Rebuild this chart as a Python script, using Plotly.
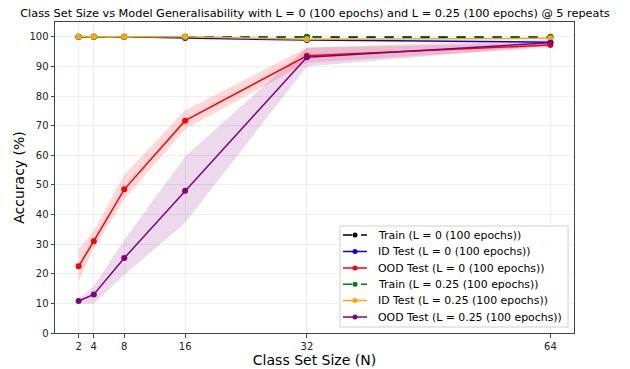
import plotly.graph_objects as go

N = [2, 4, 8, 16, 32, 64]
train_l0 = [100.0, 100.0, 100.0, 100.0, 99.9, 99.8]
id_l0 = [100.0, 100.0, 100.0, 99.6, 98.9, 98.2]
ood_l0 = [22.5, 31.0, 48.5, 71.7, 93.6, 97.2]
ood_l0_lo = [17.5, 28.5, 45.0, 68.8, 91.2, 96.5]
ood_l0_hi = [28.3, 34.5, 53.4, 75.2, 96.3, 98.0]
train_l25 = [100.0, 100.0, 100.0, 100.0, 100.0, 100.0]
id_l25 = [100.0, 100.0, 100.0, 100.0, 99.2, 99.5]
ood_l25 = [10.8, 13.0, 25.3, 48.0, 93.1, 98.0]
ood_l25_lo = [10.0, 10.0, 19.6, 37.2, 90.0, 97.0]
ood_l25_hi = [11.4, 15.9, 31.4, 59.6, 96.4, 99.0]

series_names = ["Train (L = 0 (100 epochs))", "ID Test (L = 0 (100 epochs))",
                "OOD Test (L = 0 (100 epochs))", "Train (L = 0.25 (100 epochs))",
                "ID Test (L = 0.25 (100 epochs))", "OOD Test (L = 0.25 (100 epochs))"]
series_colors = ["black", "blue", "red", "green", "orange", "purple"]
series_dash = ["dash", "solid", "solid", "dash", "solid", "solid"]
series_values = [train_l0, id_l0, ood_l0, train_l25, id_l25, ood_l25]

FONT = "DejaVu Sans"
W, H = 630, 369
ML, MR, MT, MB = 55, 56, 22, 36
PW, PH = W - ML - MR, H - MT - MB

fig = go.Figure()

def band(lo, hi, color):
    fig.add_trace(go.Scatter(x=N + N[::-1], y=hi + lo[::-1], fill="toself",
                             fillcolor=color, line=dict(width=0), mode="lines",
                             hoverinfo="skip", showlegend=False))

band(ood_l0_lo, ood_l0_hi, "rgba(255,0,0,0.15)")
band(ood_l25_lo, ood_l25_hi, "rgba(128,0,128,0.15)")

for y, c, nm, d in zip(series_values, series_colors, series_names, series_dash):
    fig.add_trace(go.Scatter(x=N, y=y, mode="lines+markers", name=nm,
                             line=dict(color=c, width=1.5, dash=d),
                             marker=dict(color=c, size=6), showlegend=False))

# manual legend (pixel layout converted to paper coords)
def px(xp):
    return (xp - ML) / PW

def py(yp):
    return (MT + PH - yp) / PH

shapes = [dict(type="rect", xref="paper", yref="paper", x0=px(340), x1=px(568),
               y0=py(327), y1=py(226), fillcolor="rgba(255,255,255,0.85)",
               line=dict(color="#d0d0d0", width=1), layer="above")]
annotations = []
row_y = [235, 251.5, 268, 284.3, 300.5, 317]
for ry, c, nm, d in zip(row_y, series_colors, series_names, series_dash):
    shapes.append(dict(type="line", xref="paper", yref="paper", x0=px(343), x1=px(367),
                       y0=py(ry), y1=py(ry), line=dict(color=c, width=1.5, dash="dash" if d == "dash" else "solid"),
                       layer="above"))
    shapes.append(dict(type="circle", xref="paper", yref="paper", xsizemode="pixel", ysizemode="pixel",
                       xanchor=px(355), yanchor=py(ry), x0=-2.5, x1=2.5, y0=-2.5, y1=2.5,
                       fillcolor=c, line=dict(color=c, width=0), layer="above"))
    annotations.append(dict(xref="paper", yref="paper", x=px(376), y=py(ry), xanchor="left",
                            yanchor="middle", text=nm, showarrow=False,
                            font=dict(family=FONT, size=10.9, color="black")))

axis_common = dict(showgrid=True, gridcolor="rgba(200,200,200,0.3)", gridwidth=1,
                   showline=True, linecolor="#444", linewidth=1, mirror=True,
                   ticks="outside", ticklen=3.5, tickcolor="#444", automargin=False,
                   tickfont=dict(family=FONT, size=10, color="#222"), zeroline=False)

fig.update_xaxes(range=[-1.1, 67.1], tickvals=N, ticktext=[str(v) for v in N],
                 title=dict(text="Class Set Size (N)", font=dict(family=FONT, size=14, color="black"), standoff=4),
                 **axis_common)
fig.update_yaxes(range=[0, 105], tickvals=list(range(0, 101, 10)),
                 title=dict(text="Accuracy (%)", font=dict(family=FONT, size=14, color="black"), standoff=1),
                 **axis_common)

fig.update_layout(
    width=W, height=H, plot_bgcolor="white", paper_bgcolor="white",
    margin=dict(l=ML, r=MR, t=MT, b=MB),
    title=dict(text="Class Set Size vs Model Generalisability with L = 0 (100 epochs) and L = 0.25 (100 epochs) @ 5 repeats",
               font=dict(family=FONT, size=11.3, color="black"), x=0.5, xanchor="center",
               y=1 - 13 / H, yanchor="middle", automargin=False),
    shapes=shapes, annotations=annotations,
    showlegend=False,
)

fig.write_html("out.html", config={"displayModeBar": False},
               post_script="document.body.style.margin='0';")
